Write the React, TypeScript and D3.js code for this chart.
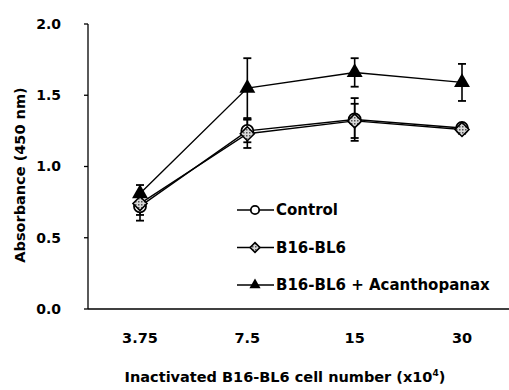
import React from "react";
import * as d3 from "d3";

const categories = ["3.75", "7.5", "15", "30"];
const controlVals = [0.72, 1.25, 1.33, 1.27];
const controlErr = [0.1, 0.08, 0.15, 0.03];
const b16Vals = [0.74, 1.23, 1.32, 1.26];
const b16Err = [0.08, 0.1, 0.12, 0.03];
const acanVals = [0.81, 1.55, 1.66, 1.59];
const acanErr = [0.06, 0.21, 0.1, 0.13];
const yTicks = [0, 0.5, 1.0, 1.5, 2.0];
const legendLabels = ["Control", "B16-BL6", "B16-BL6 + Acanthopanax"];

const W = 509;
const H = 390;
const FONT = "'DejaVu Sans', Verdana, sans-serif";

type Series = { name: string; vals: number[]; err: number[]; marker: "circle" | "diamond" | "triangle" };

const series: Series[] = [
    { name: legendLabels[0], vals: controlVals, err: controlErr, marker: "circle" },
    { name: legendLabels[1], vals: b16Vals, err: b16Err, marker: "diamond" },
    { name: legendLabels[2], vals: acanVals, err: acanErr, marker: "triangle" },
];

function Marker({ kind, x, y, s = 1 }: { kind: Series["marker"]; x: number; y: number; s?: number }) {
    if (kind === "circle") {
        return <circle cx={x} cy={y} r={6 * s} fill="white" stroke="black" strokeWidth={1.8} />;
    }
    if (kind === "diamond") {
        const r = 7 * s;
        return (
            <path
                d={`M${x},${y - r}L${x + r},${y}L${x},${y + r}L${x - r},${y}Z`}
                fill="url(#hatch)"
                stroke="black"
                strokeWidth={1.6}
            />
        );
    }
    const sym = d3.symbol(d3.symbolTriangle, 110 * s * s)();
    return <path d={sym || ""} transform={`translate(${x},${y})`} fill="black" />;
}

export default function App() {
    const x = d3.scalePoint<string>().domain(categories).range([140, 462]);
    const y = d3.scaleLinear().domain([0, 2]).range([309, 24]);
    const line = d3
        .line<number>()
        .x((_, i) => x(categories[i]) as number)
        .y((d) => y(d));

    const axisX0 = 88;

    return (
        <svg
            width={W}
            height={H}
            style={{ position: "absolute", left: 0, top: 0, background: "white" }}
            fontFamily={FONT}
        >
            <defs>
                <pattern id="hatch" width="3" height="3" patternUnits="userSpaceOnUse">
                    <rect width="3" height="3" fill="#d8d8d8" />
                    <rect width="1.5" height="1.5" fill="#555" />
                </pattern>
            </defs>
            <rect width={W} height={H} fill="white" />

            {/* y axis */}
            <line x1={axisX0} x2={axisX0} y1={y(2)} y2={y(0)} stroke="black" strokeWidth={1.3} />
            {yTicks.map((t) => (
                <g key={t}>
                    <line x1={axisX0 - 4} x2={axisX0} y1={y(t)} y2={y(t)} stroke="black" strokeWidth={1.3} />
                    <text
                        x={axisX0 - 27}
                        y={y(t)}
                        dy="0.35em"
                        textAnchor="end"
                        fontSize={14}
                        fontWeight="bold"
                    >
                        {t.toFixed(1)}
                    </text>
                </g>
            ))}
            <text
                transform={`translate(20,175) rotate(-90)`}
                textAnchor="middle"
                dy="0.35em"
                fontSize={14.5}
                fontWeight="bold"
            >
                Absorbance (450 nm)
            </text>

            {/* x axis */}
            <line x1={axisX0} x2={W} y1={y(0)} y2={y(0)} stroke="black" strokeWidth={1.5} />
            {categories.map((c) => (
                <text
                    key={c}
                    x={x(c)}
                    y={338}
                    dy="0.35em"
                    textAnchor="middle"
                    fontSize={14.5}
                    fontWeight="bold"
                >
                    {c}
                </text>
            ))}
            <text x={285} y={377} dy="0.35em" textAnchor="middle" fontSize={14.5} fontWeight="bold">
                Inactivated B16-BL6 cell number (x10
                <tspan dy="-6" fontSize={9}>4</tspan>
                <tspan dy="6">)</tspan>
            </text>

            {/* series */}
            {series.map((s) => (
                <g key={s.name}>
                    <path d={line(s.vals) || ""} fill="none" stroke="black" strokeWidth={1.4} />
                    {s.vals.map((v, i) => {
                        const cx = x(categories[i]) as number;
                        const top = y(v + s.err[i]);
                        const bot = y(v - s.err[i]);
                        return (
                            <g key={i}>
                                <line x1={cx} x2={cx} y1={top} y2={bot} stroke="black" strokeWidth={1.6} />
                                <line x1={cx - 4} x2={cx + 4} y1={top} y2={top} stroke="black" strokeWidth={1.8} />
                                <line x1={cx - 4} x2={cx + 4} y1={bot} y2={bot} stroke="black" strokeWidth={1.8} />
                            </g>
                        );
                    })}
                </g>
            ))}
            {series.map((s) =>
                s.vals.map((v, i) => (
                    <Marker key={s.name + i} kind={s.marker} x={x(categories[i]) as number} y={y(v)} />
                ))
            )}

            {/* legend */}
            {series.map((s, i) => {
                const ly = 210 + i * 37.5;
                return (
                    <g key={s.name}>
                        <line x1={237} x2={274} y1={ly} y2={ly} stroke="black" strokeWidth={1.4} />
                        <Marker kind={s.marker} x={255} y={ly} s={0.7} />
                        <text x={276} y={ly} dy="0.35em" fontSize={15} fontWeight="bold">
                            {s.name}
                        </text>
                    </g>
                );
            })}
        </svg>
    );
}
